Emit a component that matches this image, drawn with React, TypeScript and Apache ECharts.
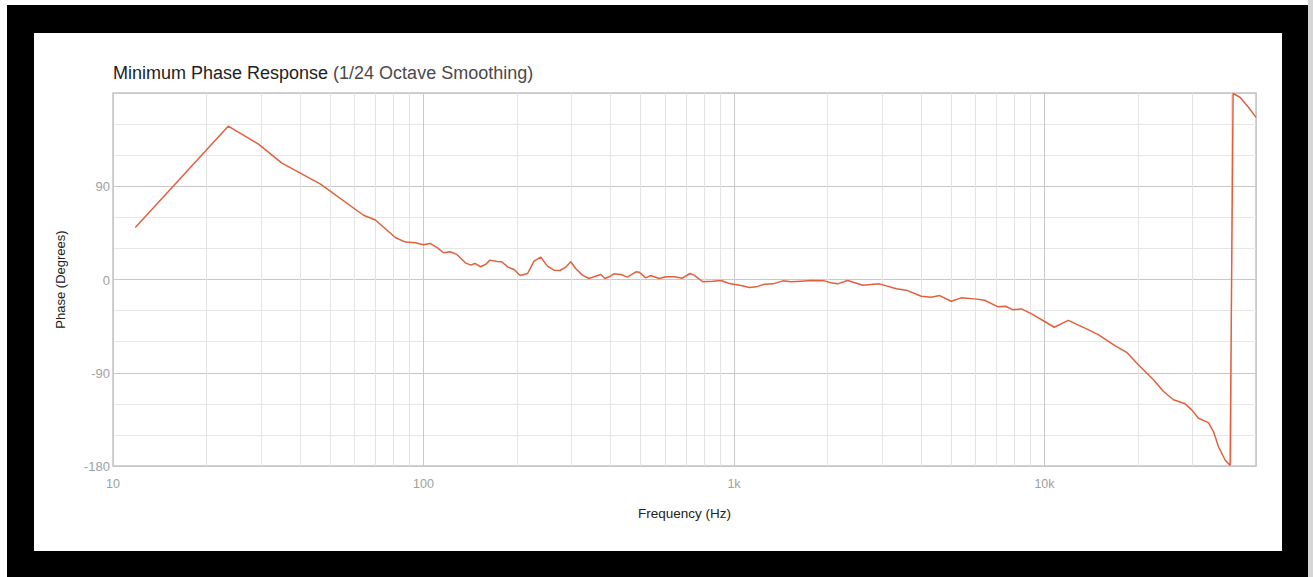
import React, { useEffect, useRef } from "react";
import * as echarts from "echarts";

// Frequency (Hz) and minimum-phase (degrees) pairs, 1/24-octave smoothed
const frequencies = [
  11.8, 23.5, 29.4, 35, 46.6, 64.1, 70, 81.3, 87.5, 94.2,
  100, 105, 110.7, 116, 122, 128, 136.5, 142, 146.3, 152.7,
  158.5, 163.7, 172.5, 178.8, 187, 195.7, 204.8, 216.4, 227, 238.6,
  250.7, 263.3, 275, 287, 298, 309, 325, 341, 354, 372.5,
  384, 396, 411, 432, 454, 483, 495, 520, 540, 574,
  604, 643, 682, 722, 744, 793, 854, 908, 966, 1000,
  1054, 1122, 1179, 1254, 1334, 1437, 1529, 1645, 1772, 1955,
  2054, 2157, 2322, 2601, 2943, 3334, 3587, 4010, 4319, 4594,
  5008, 5388, 5954, 6417, 7089, 7486, 7928, 8435, 9089, 9979,
  10750, 11930, 13660, 14900, 16860, 18390, 20060, 22440, 24170, 26030,
  28380, 29810, 31320, 33730, 35020, 36330, 38170, 39620, 40500, 42630,
  45400, 48000,
];

const phaseDegrees = [
  50.3, 148, 130.7, 112.3, 92, 62, 57.4, 40.3, 36.1, 35.5,
  33.5, 34.8, 30.7, 25.8, 26.8, 24.2, 16.1, 13.9, 15.5, 12.3,
  14.5, 18.7, 17.4, 17.1, 11.9, 9.7, 3.9, 5.8, 17.7, 21.6,
  12.9, 9.0, 8.7, 11.9, 17.1, 10.6, 4.2, 1, 2.6, 4.8,
  1, 2.6, 5.5, 4.8, 2.3, 7.4, 7.1, 1.6, 3.9, 1,
  2.6, 2.6, 1.3, 5.8, 4.2, -2.2, -1.6, -1, -3.9, -4.5,
  -5.8, -7.7, -7.1, -4.5, -4.2, -1.3, -2.2, -1.6, -1, -1.3,
  -3.2, -4.2, -1, -5.5, -4.2, -9.0, -10.3, -16.1, -17.1, -15.5,
  -21.0, -17.7, -18.7, -20.0, -26.4, -25.8, -29.3, -28.4, -33.2, -40.3,
  -46.1, -39.4, -47.7, -53.2, -63.9, -70.3, -82.3, -96.8, -108.1, -116.1,
  -120, -125.8, -133.9, -138.1, -146.8, -161.3, -174.2, -179.5, 179.5, 175.9,
  166.2, 156.5,
];

// Intermediate (non-decade) frequency grid lines
const minorFrequencies = [
  20, 30, 40, 50, 60, 70, 80, 90,
  200, 300, 400, 500, 600, 700, 800, 900,
  2000, 3000, 4000, 5000, 6000, 7000, 8000, 9000,
  20000, 30000, 40000,
];

const phaseTickLabels = [-180, -90, 0, 90];
const frequencyTickLabels: Record<number, string> = {
  10: "10",
  100: "100",
  1000: "1k",
  10000: "10k",
};

const FONT = "'Liberation Sans', Arial, Helvetica, sans-serif";

export default function App() {
  const ref = useRef<HTMLDivElement>(null);

  useEffect(() => {
    if (!ref.current) return;
    const chart = echarts.init(ref.current, undefined, { renderer: "svg" });
    const points = frequencies.map((f, i) => [f, phaseDegrees[i]]);

    chart.setOption({
      animation: false,
      textStyle: { fontFamily: FONT },
      title: {
        left: 108,
        top: 59,
        text: "{a|Minimum Phase Response} {b|(1/24 Octave Smoothing)}",
        textStyle: {
          fontWeight: "normal",
          rich: {
            a: { fontSize: 18, color: "#1e1e1e", fontFamily: FONT, fontWeight: "normal" },
            b: { fontSize: 18, color: "#4a4a4a", fontFamily: FONT, fontWeight: "normal" },
          },
        },
      },
      grid: {
        left: 113,
        top: 93,
        right: 57,
        bottom: 111,
        show: true,
        borderColor: "#c4c4c4",
        borderWidth: 1.5,
        backgroundColor: "transparent",
      },
      xAxis: {
        type: "log",
        logBase: 10,
        min: 10,
        max: 48000,
        name: "Frequency (Hz)",
        nameLocation: "middle",
        nameGap: 40,
        nameTextStyle: { color: "#222", fontSize: 13.5, fontFamily: FONT },
        axisLine: { show: false },
        axisTick: { show: false },
        axisLabel: {
          color: "#a0a0a0",
          fontSize: 12.5,
          margin: 11,
          showMaxLabel: false,
          formatter: (v: number) => frequencyTickLabels[Math.round(v)] ?? "",
        },
        splitLine: { show: true, lineStyle: { color: "#c8c8c8", width: 1 } },
      },
      yAxis: {
        type: "value",
        min: -180,
        max: 180,
        interval: 30,
        name: "Phase (Degrees)",
        nameLocation: "middle",
        nameGap: 46,
        nameRotate: 90,
        nameTextStyle: { color: "#222", fontSize: 13, fontFamily: FONT },
        axisLine: { show: false },
        axisTick: { show: false },
        axisLabel: {
          color: "#a0a0a0",
          fontSize: 13,
          margin: 3,
          verticalAlign: "top",
          padding: [-6, 0, 0, 0],
          formatter: (v: number) => (phaseTickLabels.includes(v) ? String(v) : ""),
        },
        splitLine: {
          show: true,
          lineStyle: { color: ["#c8c8c8", "#e6e6e6", "#e6e6e6"], width: 1 },
        },
      },
      series: [
        {
          name: "minor-grid",
          type: "line",
          data: [],
          z: 1,
          silent: true,
          markLine: {
            z: 1,
            silent: true,
            symbol: "none",
            label: { show: false },
            lineStyle: { color: "#e4e4e4", width: 1, type: "solid" },
            data: minorFrequencies.map((f) => ({ xAxis: f })),
          },
        },
        {
          name: "Phase",
          type: "line",
          data: points,
          z: 6,
          showSymbol: false,
          symbol: "none",
          lineStyle: { color: "#e2603c", width: 1.5 },
        },
      ],
    });

    return () => chart.dispose();
  }, []);

  return (
    <div
      style={{
        position: "absolute",
        left: 0,
        top: 0,
        width: 1313,
        height: 577,
        background: "#ffffff",
        overflow: "hidden",
      }}
    >
      <div
        style={{
          position: "absolute",
          left: 7,
          top: 5,
          width: 1301,
          height: 572,
          background: "#000000",
        }}
      />
      <div
        style={{
          position: "absolute",
          left: 1308,
          top: 0,
          width: 5,
          height: 577,
          background: "#d6d6d6",
        }}
      />
      <div
        style={{
          position: "absolute",
          left: 34,
          top: 33,
          width: 1248,
          height: 518,
          background: "#ffffff",
        }}
      />
      <div
        ref={ref}
        style={{ position: "absolute", left: 0, top: 0, width: 1313, height: 577 }}
      />
    </div>
  );
}
